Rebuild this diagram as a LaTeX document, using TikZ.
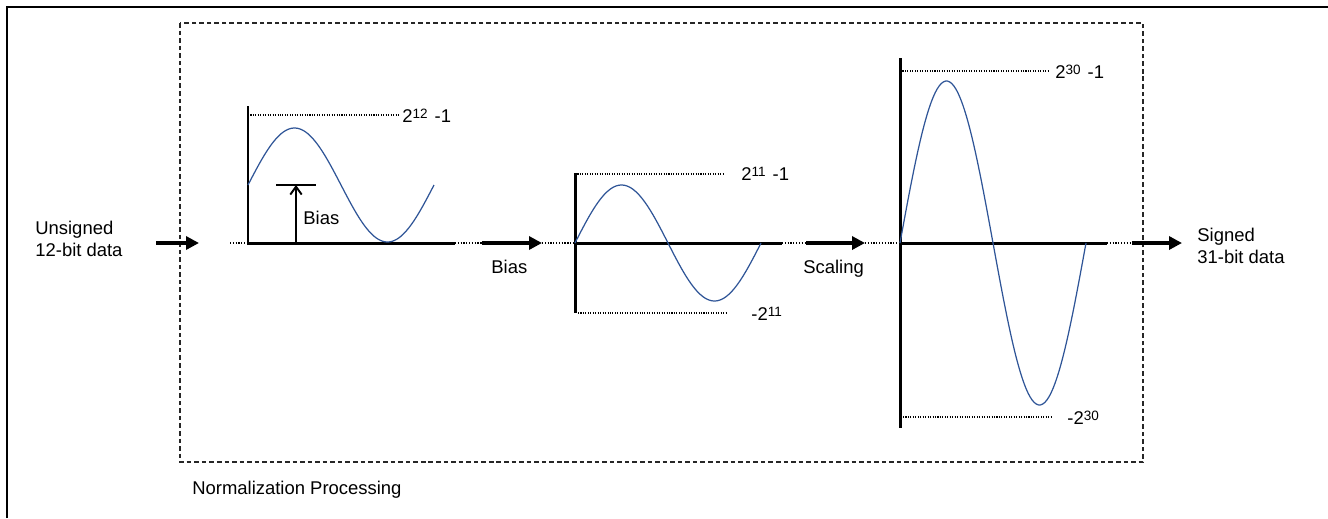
\documentclass[tikz,border=0pt]{standalone}
\usepackage{fontspec}
\setmainfont{Liberation Sans}
\usepackage{tikz}
\usetikzlibrary{positioning, arrows.meta}
\definecolor{WaveBlue}{RGB}{47,85,151}
\newcommand{\expo}[1]{\raisebox{2pt}{\fontsize{7.7}{8}\selectfont #1}}
\tikzset{
  frameline/.style={line width=1.6pt, black},
  procbox/.style={draw=black!85, line width=0.6pt, dash pattern=on 2.6pt off 1.7pt},
  lbl/.style={font=\fontsize{10.5}{12.5}\selectfont, inner sep=0pt, anchor=base west},
  lbltwo/.style={lbl, anchor=west, align=left},
  axisline/.style={line width=1.7pt, black},
  axisdots/.style={line width=1.1pt, dash pattern=on 0.7pt off 0.9pt},
  guide/.style={line width=0.6pt, dash pattern=on 0.6pt off 0.8pt},
  wave/.style={WaveBlue, line width=0.7pt},
  flowarr/.style={-{Triangle[length=7.4pt,width=7.4pt]}, line width=2.3pt},
  biasarr/.style={-{Straight Barb[length=4.5pt,width=6.5pt]}, line width=1.1pt},
  biasmark/.style={line width=0.6pt},
}

\begin{document}
\begin{tikzpicture}[x=0.02cm, y=-0.02cm]
  \useasboundingbox (0,0) rectangle (1328,518);
  \draw[frameline] (7,518) -- (7,7) -- (1328,7);
  \draw[procbox] (180,23) rectangle (1143,462);
  \node[lbl] (proclbl) at (192,494) {Normalization Processing};

  \node[lbltwo] (inlbl) at (35,239) {Unsigned\\12-bit data};
  \node[lbltwo] (outlbl) at (1197,246) {Signed\\31-bit data};

  \coordinate (in-tail) at (156,243);   \coordinate (in-head) at (199,243);
  \coordinate (bias-tail) at (482,243); \coordinate (bias-head) at (542,243);
  \coordinate (scl-tail) at (806,243);  \coordinate (scl-head) at (865,243);
  \coordinate (out-tail) at (1132,243); \coordinate (out-head) at (1182,243);
  \draw[flowarr] (in-tail) -- (in-head);
  \draw[flowarr] (bias-tail) -- (bias-head);
  \draw[flowarr] (scl-tail) -- (scl-head);
  \draw[flowarr] (out-tail) -- (out-head);
  \node[lbl] (biaslbl) at (491,273) {Bias};
  \node[lbl] (scllbl) at (803,273) {Scaling};

  \draw[axisdots] (230,243) -- (248,243);
  \draw[axisdots] (455,243) -- (bias-tail);
  \draw[axisdots] (bias-head) -- (575,243);
  \draw[axisdots] (782,243) -- (scl-tail);
  \draw[axisdots] (scl-head) -- (900,243);
  \draw[axisdots] (1107,243) -- (out-tail);

  % unsigned input
  \draw[axisline] (248,106) -- (248,243) -- (455,243);
  \draw[guide] (248,115) -- (399,115);
  \node[lbl] (max1) at (402,122) {2\expo{12}\hspace{4pt}-1};
  \coordinate (bias-base) at (296,243);
  \coordinate (bias-top) at (296,185);
  \draw[biasmark] (276,185) -- (316,185);
  \draw[biasarr] (bias-base) -- (bias-top);
  \node[lbl] (biasval) at (303,224) {Bias};

  % after bias
  \draw[axisline] (575,173) -- (575,313);
  \draw[axisline] (575,243) -- (782,243);
  \draw[guide] (575,174) -- (725,174);
  \draw[guide] (578,313) -- (728,313);
  \node[lbl] (max2) at (741,180) {2\expo{11}\hspace{4pt}-1};
  \node[lbl] (min2) at (751,320) {-2\expo{11}};

  % after scaling
  \draw[axisline] (900,58) -- (900,428);
  \draw[axisline] (900,243) -- (1107,243);
  \draw[guide] (900,71) -- (1050,71);
  \draw[guide] (903,417) -- (1052,417);
  \node[lbl] (max3) at (1055,78) {2\expo{30}\hspace{4pt}-1};
  \node[lbl] (min3) at (1067,424) {-2\expo{30}};

  \foreach \ox/\cy/\amp in {248/185/57, 575/243/58, 900/243/162}
    \draw[wave] plot[domain=0:360, samples=91, smooth] ({\ox+\x/360*186},{\cy-\amp*sin(\x)});
\end{tikzpicture}
\end{document}
